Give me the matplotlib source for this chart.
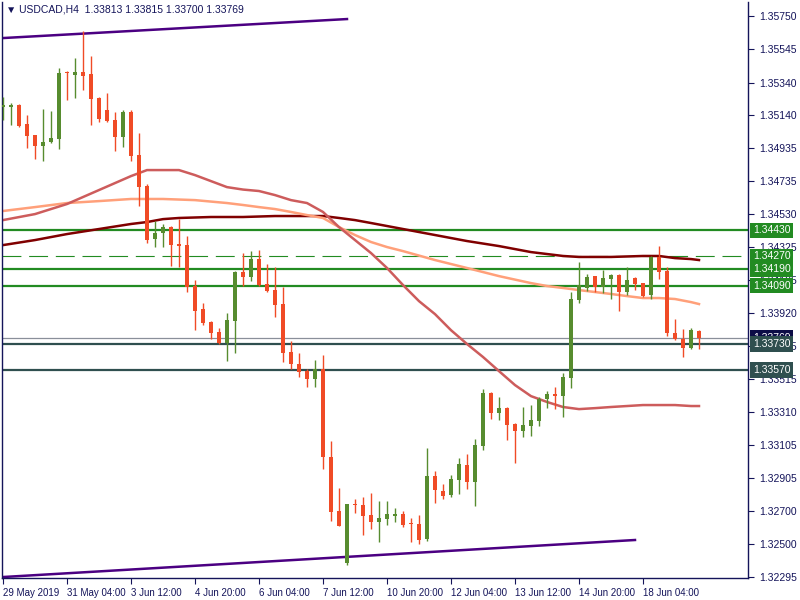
import matplotlib
matplotlib.use('Agg')
import matplotlib.pyplot as plt
import matplotlib.transforms as mtransforms
import numpy as np

plt.rcParams['font.family'] = ['Liberation Sans', 'DejaVu Sans']

# ---------------- data ----------------
opens = [1.35189, 1.35189, 1.35201, 1.35084, 1.35017, 1.34949, 1.34974, 1.34992, 1.35405, 1.35386,
         1.35405, 1.35392, 1.35244, 1.35171, 1.35109, 1.35004, 1.35158, 1.34894, 1.34703, 1.34376,
         1.34413, 1.34450, 1.34345, 1.34339, 1.34087, 1.33945, 1.33865, 1.33804, 1.33736, 1.33871,
         1.34173, 1.34142, 1.34253, 1.34099, 1.34062, 1.33976, 1.33680, 1.33607, 1.33563, 1.33514,
         1.33576, 1.33034, 1.32701, 1.32381, 1.32744, 1.32738, 1.32677, 1.32634, 1.32652, 1.32670,
         1.32683, 1.32627, 1.32621, 1.32529, 1.32917, 1.32824, 1.32800, 1.32892, 1.32985, 1.32880,
         1.33101, 1.33428, 1.33305, 1.33335, 1.33237, 1.33194, 1.33225, 1.33255, 1.33391, 1.33422,
         1.33409, 1.33520, 1.34001, 1.34075, 1.34148, 1.34081, 1.34130, 1.34155, 1.34050, 1.34136,
         1.34105, 1.34031, 1.34266, 1.34179, 1.33797, 1.33760, 1.33705, 1.33813]
highs = [1.35251, 1.35214, 1.35205, 1.35140, 1.35020, 1.35177, 1.35165, 1.35429, 1.35411, 1.35491,
         1.35657, 1.35503, 1.35250, 1.35275, 1.35158, 1.35171, 1.35171, 1.35029, 1.34715, 1.34487,
         1.34469, 1.34456, 1.34499, 1.34395, 1.34124, 1.33982, 1.33871, 1.33828, 1.33920, 1.34180,
         1.34290, 1.34302, 1.34309, 1.34222, 1.34204, 1.34081, 1.33748, 1.33674, 1.33576, 1.33631,
         1.33662, 1.33132, 1.32843, 1.32744, 1.32775, 1.32787, 1.32812, 1.32763, 1.32763, 1.32720,
         1.32701, 1.32658, 1.32677, 1.33089, 1.32948, 1.32867, 1.32923, 1.33028, 1.33052, 1.33145,
         1.33452, 1.33434, 1.33403, 1.33340, 1.33243, 1.33342, 1.33354, 1.33403, 1.33440, 1.33465,
         1.33551, 1.34050, 1.34235, 1.34161, 1.34150, 1.34183, 1.34161, 1.34160, 1.34204, 1.34140,
         1.34108, 1.34270, 1.34333, 1.34204, 1.33884, 1.33822, 1.33828, 1.33815]
lows = [1.35109, 1.35078, 1.35066, 1.34937, 1.34869, 1.34857, 1.34967, 1.34930, 1.35232, 1.35244,
        1.35294, 1.35078, 1.35097, 1.35100, 1.34918, 1.34943, 1.34857, 1.34580, 1.34352, 1.34327,
        1.34327, 1.34210, 1.34204, 1.34050, 1.33815, 1.33847, 1.33760, 1.33730, 1.33625, 1.33674,
        1.34087, 1.34118, 1.34087, 1.34050, 1.33896, 1.33619, 1.33576, 1.33526, 1.33465, 1.33465,
        1.32960, 1.32640, 1.32609, 1.32369, 1.32689, 1.32553, 1.32590, 1.32510, 1.32615, 1.32634,
        1.32603, 1.32510, 1.32498, 1.32517, 1.32750, 1.32775, 1.32787, 1.32806, 1.32837, 1.32732,
        1.33077, 1.33268, 1.33261, 1.33138, 1.32997, 1.33157, 1.33163, 1.33225, 1.33335, 1.33329,
        1.33281, 1.33459, 1.33982, 1.34056, 1.34050, 1.34044, 1.34007, 1.33933, 1.34031, 1.34062,
        1.34020, 1.34007, 1.34130, 1.33779, 1.33755, 1.33650, 1.33700, 1.33700]
closes = [1.35201, 1.35201, 1.35072, 1.35010, 1.34949, 1.34974, 1.34998, 1.35398, 1.35398, 1.35405,
          1.35380, 1.35238, 1.35115, 1.35103, 1.35004, 1.35158, 1.34887, 1.34696, 1.34370, 1.34413,
          1.34450, 1.34339, 1.34333, 1.34081, 1.33933, 1.33859, 1.33797, 1.33736, 1.33877, 1.34173,
          1.34142, 1.34253, 1.34093, 1.34056, 1.33970, 1.33674, 1.33607, 1.33557, 1.33514, 1.33576,
          1.33034, 1.32695, 1.32609, 1.32744, 1.32738, 1.32670, 1.32634, 1.32658, 1.32683, 1.32683,
          1.32615, 1.32621, 1.32523, 1.32917, 1.32831, 1.32794, 1.32898, 1.32991, 1.32880, 1.33108,
          1.33428, 1.33305, 1.33335, 1.33230, 1.33194, 1.33230, 1.33261, 1.33391, 1.33422, 1.33409,
          1.33526, 1.34007, 1.34093, 1.34142, 1.34081, 1.34136, 1.34155, 1.34050, 1.34124, 1.34099,
          1.34025, 1.34266, 1.34173, 1.33797, 1.33760, 1.33705, 1.33815, 1.33769]

# moving averages (bar index, value)
ma_fast_bars = [0, 4, 8, 12, 16, 18, 20, 22, 24, 26, 28, 30, 32, 34, 36, 38, 40, 42, 44, 46, 48,
                50, 52, 54, 56, 58, 60, 62, 64, 66, 68, 70, 72, 74, 76, 78, 80, 82, 84, 86, 87]
ma_fast_vals = [1.34493, 1.34530, 1.34592, 1.34678, 1.34764, 1.34801, 1.34801, 1.34801, 1.34770,
                1.34733, 1.34696, 1.34681, 1.34672, 1.34647, 1.34616, 1.34598, 1.34543, 1.34450,
                1.34370, 1.34290, 1.34198, 1.34093, 1.33994, 1.33914, 1.33815, 1.33730, 1.33650,
                1.33563, 1.33477, 1.33409, 1.33373, 1.33342, 1.33329, 1.33335, 1.33342, 1.33348,
                1.33354, 1.33354, 1.33354, 1.33348, 1.33348]
ma_mid_bars = [0, 4, 8, 12, 16, 20, 24, 28, 30, 32, 34, 36, 38, 40, 42, 44, 46, 48, 50, 54, 58,
               62, 66, 68, 70, 72, 74, 76, 78, 80, 82, 84, 86, 87]
ma_mid_vals = [1.34549, 1.34573, 1.34598, 1.34610, 1.34623, 1.34623, 1.34616, 1.34598, 1.34586,
               1.34573, 1.34561, 1.34543, 1.34524, 1.34506, 1.34450, 1.34401, 1.34358, 1.34327,
               1.34302, 1.34247, 1.34198, 1.34148, 1.34105, 1.34087, 1.34075, 1.34062, 1.34050,
               1.34038, 1.34025, 1.34013, 1.34013, 1.34007, 1.33988, 1.33976]
ma_slow_bars = [0, 4, 8, 12, 16, 18, 20, 22, 26, 30, 34, 38, 40, 42, 44, 46, 50, 54, 58, 62, 66,
                68, 70, 72, 76, 80, 82, 84, 86, 87]
ma_slow_vals = [1.34339, 1.34370, 1.34407, 1.34438, 1.34469, 1.34481, 1.34499, 1.34506, 1.34512,
                1.34512, 1.34518, 1.34518, 1.34518, 1.34506, 1.34493, 1.34475, 1.34438, 1.34401,
                1.34364, 1.34333, 1.34296, 1.34284, 1.34272, 1.34266, 1.34266, 1.34272, 1.34272,
                1.34259, 1.34253, 1.34247]

# trend lines (bar index, price)
trend_top = ([0, 43], [1.35614, 1.35731])
trend_bottom = ([0, 79], [1.32295, 1.32523])

# horizontal levels
green_levels = [1.34430, 1.34190, 1.34090]
dashed_level = 1.34270
slate_levels = [1.33730, 1.33570]
bid_price = 1.33769

ytick_vals = [1.35750, 1.35545, 1.35340, 1.35140, 1.34935, 1.34735, 1.34530, 1.34325, 1.34125,
              1.33920, 1.33715, 1.33515, 1.33310, 1.33105, 1.32905, 1.32700, 1.32500, 1.32295]
xtick_bars = [0, 8, 16, 24, 32, 40, 48, 56, 64, 72, 80]
xtick_labels = ['29 May 2019', '31 May 04:00', '3 Jun 12:00', '4 Jun 20:00', '6 Jun 04:00',
                '7 Jun 12:00', '10 Jun 20:00', '12 Jun 04:00', '13 Jun 12:00', '14 Jun 20:00',
                '18 Jun 04:00']
title_text = '\u25BC USDCAD,H4  1.33813 1.33815 1.33700 1.33769'

# ---------------- styling ----------------
NAVY = '#14145a'
BULL = '#578C2F'
BEAR = '#F04B26'
GREEN = '#228B22'
SLATE = '#2F4F4F'
FS = 7.5

fig = plt.figure(figsize=(8, 6), dpi=100)
fig.patch.set_facecolor('white')
ax = fig.add_axes([2 / 800, 22 / 600, 746 / 800, 576 / 600])
ax.set_facecolor('white')
ax.set_xlim(-0.125, 93.125)
ax.set_ylim(1.32289, 1.35836)

# horizontal levels (behind candles)
for lv in green_levels:
    ax.axhline(lv, color=GREEN, lw=1.6, zorder=1)
ax.axhline(dashed_level, color=GREEN, lw=0.8, ls=(0, (17, 7)), zorder=1)
for lv in slate_levels:
    ax.axhline(lv, color=SLATE, lw=1.6, zorder=1)
ax.axhline(bid_price, color='#8a8f9a', lw=0.9, zorder=1)

# moving averages
ax.plot(ma_slow_bars, ma_slow_vals, color='#800000', lw=1.8, zorder=1.5)
ax.plot(ma_mid_bars, ma_mid_vals, color='#FFA07A', lw=1.8, zorder=1.5)
ax.plot(ma_fast_bars, ma_fast_vals, color='#CD5C5C', lw=1.8, zorder=1.5)

# trend lines
ax.plot(trend_top[0], trend_top[1], color='#4B0082', lw=1.8, zorder=1.6)
ax.plot(trend_bottom[0], trend_bottom[1], color='#4B0082', lw=1.8, zorder=1.6)

# candles
o = np.array(opens); h = np.array(highs); l = np.array(lows); c = np.array(closes)
idx = np.arange(len(o))
bull = c >= o
cols = np.where(bull, BULL, BEAR)
ax.vlines(idx, l, h, colors=cols, lw=1.0, zorder=3)
bottoms = np.minimum(o, c)
heights = np.maximum(np.abs(c - o), 0.00007)
ax.bar(idx, heights, bottom=bottoms, width=0.62, color=cols, edgecolor='none', zorder=3.5)

# axes styling
ax.spines['top'].set_visible(False)
for s in ['left', 'right', 'bottom']:
    ax.spines[s].set_color(NAVY)
    ax.spines[s].set_linewidth(1.0)

ax.yaxis.tick_right()
ax.set_yticks(ytick_vals)
ax.set_yticklabels([f'{v:.5f}' for v in ytick_vals])
ax.tick_params(axis='y', direction='out', length=4, width=0.8, colors=NAVY, labelsize=FS, pad=4)
ax.set_xticks(xtick_bars)
ax.set_xticklabels(xtick_labels)
ax.tick_params(axis='x', direction='out', length=4, width=0.8, colors=NAVY, labelsize=7, pad=3)
for lab in ax.get_xticklabels():
    lab.set_horizontalalignment('left')

# right-side price boxes
trans = mtransforms.blended_transform_factory(ax.transAxes, ax.transData)
xbox = 1.0 + 5 / 746


def price_box(val, fc, z):
    ax.text(xbox, val, f'{val:.5f}', transform=trans, ha='left', va='center', fontsize=FS,
            color='white', clip_on=False, zorder=z,
            bbox=dict(boxstyle='square,pad=0.25', fc=fc, ec='none'))


for lv in green_levels + [dashed_level]:
    price_box(lv, GREEN, 6)
price_box(bid_price, '#0c0c46', 6)
for lv in slate_levels:
    price_box(lv, SLATE, 7)

# title
fig.text(6 / 800, 1 - 10 / 600, title_text, ha='left', va='center', fontsize=FS, color=NAVY)

fig.savefig('out.png', dpi=100, facecolor='white')
